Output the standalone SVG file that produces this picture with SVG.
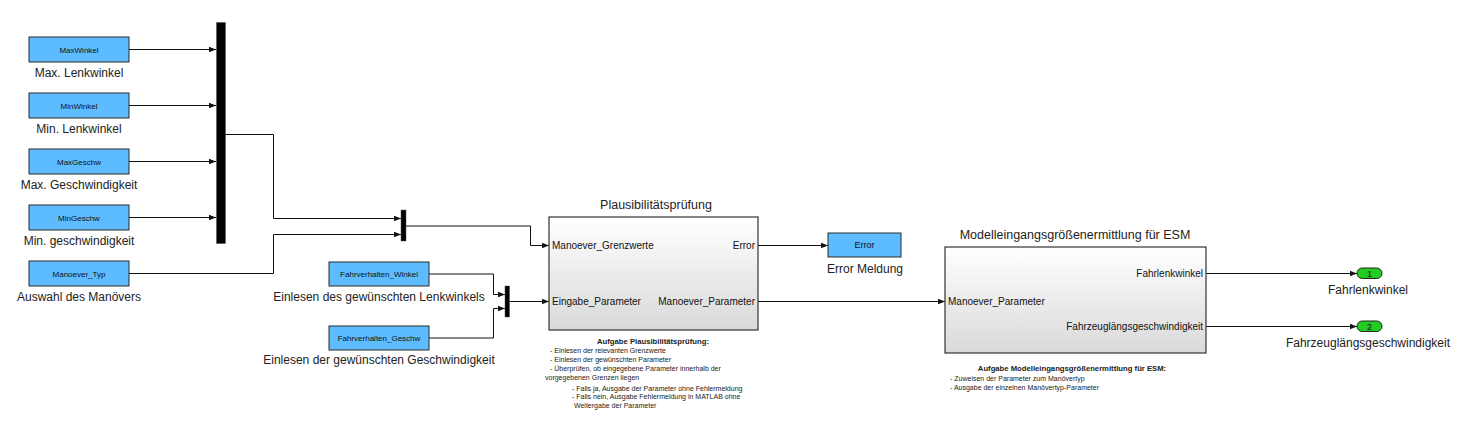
<svg xmlns="http://www.w3.org/2000/svg" width="1462" height="421" viewBox="0 0 1462 421">
<defs>
<style>
.blk{fill:#5cbcff;stroke:#2b2b2b;stroke-width:1}
.bt{font-family:"Liberation Sans",Arial,sans-serif;font-size:8px;fill:#111;text-anchor:middle}
.lbl{font-family:"Liberation Sans",Arial,sans-serif;font-size:12px;fill:#222;text-anchor:middle}
.ttl{font-size:12.5px}
.port{font-family:"Liberation Sans",Arial,sans-serif;font-size:10px;fill:#111}
.pr{text-anchor:end}
.sub{fill:url(#g);stroke:#333;stroke-width:1.2}
.mux{fill:#000;stroke:#555;stroke-width:0.5}
.ln{fill:none;stroke:#111;stroke-width:1}
.note{font-family:"Liberation Sans",Arial,sans-serif;font-size:7px;fill:#222}
.nb{font-weight:bold;font-size:7.7px;text-anchor:middle}
.op{fill:#22cc22;stroke:#222;stroke-width:1}
.opt{font-family:"Liberation Sans",Arial,sans-serif;font-size:9px;fill:#111;text-anchor:middle}
</style>
<linearGradient id="g" x1="0" y1="0" x2="0" y2="1">
<stop offset="0" stop-color="#ffffff"/>
<stop offset="1" stop-color="#d9d9d9"/>
</linearGradient>
<marker id="ar" viewBox="0 0 10 10" refX="10" refY="5" markerWidth="7" markerHeight="7" markerUnits="userSpaceOnUse" orient="auto">
<path d="M0,1 L10,5 L0,9 Z" fill="#111"/>
</marker>
</defs>
<g id="connectors">
<path class="ln" marker-end="url(#ar)" d="M129,49.5 H216"/>
<path class="ln" marker-end="url(#ar)" d="M129,105.5 H216"/>
<path class="ln" marker-end="url(#ar)" d="M129,161.5 H216"/>
<path class="ln" marker-end="url(#ar)" d="M129,217.5 H216"/>
<path class="ln" marker-end="url(#ar)" d="M225,134.5 H273.5 V218.5 H401"/>
<path class="ln" marker-end="url(#ar)" d="M129,273.5 H273.5 V234.5 H401"/>
<path class="ln" marker-end="url(#ar)" d="M406,226 H530.5 V245.5 H549"/>
<path class="ln" marker-end="url(#ar)" d="M429,274 H493.5 V294.5 H505"/>
<path class="ln" marker-end="url(#ar)" d="M429,338 H493.5 V308.5 H505"/>
<path class="ln" marker-end="url(#ar)" d="M509.5,301.5 H549"/>
<path class="ln" marker-end="url(#ar)" d="M758,245.5 H828"/>
<path class="ln" marker-end="url(#ar)" d="M758,301.5 H945"/>
<path class="ln" marker-end="url(#ar)" d="M1206,273.5 H1357"/>
<path class="ln" marker-end="url(#ar)" d="M1206,326.5 H1357"/>
</g>
<g id="MaxWinkel">
<rect class="blk" x="29" y="37" width="100" height="25"/>
<text class="bt" x="79" y="52.5">MaxWinkel</text>
<text class="lbl" x="79" y="77">Max. Lenkwinkel</text>
</g>
<g id="MinWinkel">
<rect class="blk" x="29" y="93" width="100" height="25"/>
<text class="bt" x="79" y="108.5">MinWinkel</text>
<text class="lbl" x="79" y="133">Min. Lenkwinkel</text>
</g>
<g id="MaxGeschw">
<rect class="blk" x="29" y="149" width="100" height="25"/>
<text class="bt" x="79" y="164.5">MaxGeschw</text>
<text class="lbl" x="79" y="189">Max. Geschwindigkeit</text>
</g>
<g id="MinGeschw">
<rect class="blk" x="29" y="205" width="100" height="25"/>
<text class="bt" x="79" y="220.5">MinGeschw</text>
<text class="lbl" x="79" y="245">Min. geschwindigkeit</text>
</g>
<g id="Manoever_Typ">
<rect class="blk" x="29" y="261" width="100" height="25"/>
<text class="bt" x="79" y="276.5">Manoever_Typ</text>
<text class="lbl" x="79" y="301">Auswahl des Manövers</text>
</g>
<g id="Mux1">
<rect class="mux" x="216.5" y="22.5" width="9" height="221"/>
</g>
<g id="Mux2">
<rect class="mux" x="401" y="210" width="5" height="31"/>
</g>
<g id="Fahrverhalten_Winkel">
<rect class="blk" x="329" y="262" width="100" height="24"/>
<text class="bt" x="379" y="277">Fahrverhalten_Winkel</text>
<text class="lbl" x="379" y="301">Einlesen des gewünschten Lenkwinkels</text>
</g>
<g id="Fahrverhalten_Geschw">
<rect class="blk" x="329" y="326" width="100" height="24"/>
<text class="bt" x="379" y="341">Fahrverhalten_Geschw</text>
<text class="lbl" x="379" y="364">Einlesen der gewünschten Geschwindigkeit</text>
</g>
<g id="Mux3">
<rect class="mux" x="505" y="286" width="4.5" height="31"/>
</g>
<g id="Plausibilitaetspruefung">
<rect class="sub" x="549" y="217" width="209" height="113"/>
<text class="lbl ttl" x="656" y="209">Plausibilitätsprüfung</text>
<text class="port" x="552" y="249">Manoever_Grenzwerte</text>
<text class="port" x="552" y="305">Eingabe_Parameter</text>
<text class="port pr" x="755" y="249">Error</text>
<text class="port pr" x="755" y="305">Manoever_Parameter</text>
</g>
<g id="Note1">
<text class="note nb" x="653" y="343.5">Aufgabe Plausibilitätsprüfung:</text>
<text class="note" x="550" y="353">- Einlesen der relevanten Grenzwerte</text>
<text class="note" x="550" y="361.5">- Einlesen der gewünschten Parameter</text>
<text class="note" x="550" y="370.5">- Überprüfen, ob eingegebene Parameter innerhalb der</text>
<text class="note" x="545" y="379.5">vorgegebenen Grenzen liegen</text>
<text class="note" x="572" y="390.5">- Falls ja, Ausgabe der Parameter ohne Fehlermeldung</text>
<text class="note" x="572" y="399">- Falls nein, Ausgabe Fehlermeldung in MATLAB ohne</text>
<text class="note" x="574" y="407.5">Weitergabe der Parameter</text>
</g>
<g id="Error">
<rect class="blk" x="828" y="233" width="73" height="24"/>
<text class="bt" x="864.5" y="248" style="font-size:9px">Error</text>
<text class="lbl" x="865" y="273">Error Meldung</text>
</g>
<g id="Modelleingangsgroessenermittlung">
<rect class="sub" x="945" y="247" width="261" height="106"/>
<text class="lbl ttl" x="1075" y="239">Modelleingangsgrößenermittlung für ESM</text>
<text class="port" x="948" y="305">Manoever_Parameter</text>
<text class="port pr" x="1203" y="277">Fahrlenkwinkel</text>
<text class="port pr" x="1203" y="330">Fahrzeuglängsgeschwindigkeit</text>
</g>
<g id="Note2">
<text class="note nb" x="1072" y="371">Aufgabe Modelleingangsgrößenermittlung für ESM:</text>
<text class="note" x="950" y="381">- Zuweisen der Parameter zum Manövertyp</text>
<text class="note" x="950" y="390">- Ausgabe der einzelnen Manövertyp-Parameter</text>
</g>
<g id="Out1">
<rect class="op" x="1357" y="268" width="25" height="10.5" rx="5.25"/>
<text class="opt" x="1369.5" y="276.5">1</text>
<text class="lbl" x="1368" y="294">Fahrlenkwinkel</text>
</g>
<g id="Out2">
<rect class="op" x="1357" y="321" width="25" height="10.5" rx="5.25"/>
<text class="opt" x="1369.5" y="329.5">2</text>
<text class="lbl" x="1368" y="347">Fahrzeuglängsgeschwindigkeit</text>
</g>
</svg>
